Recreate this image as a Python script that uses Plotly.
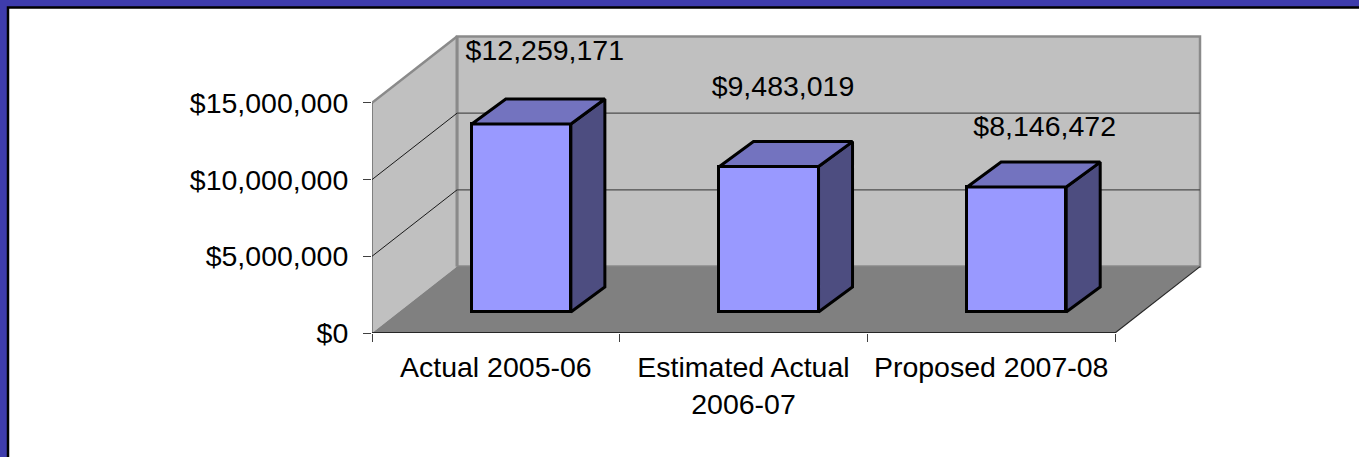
import plotly.graph_objects as go

# ---- data ----
categories = ["Actual 2005-06", "Estimated Actual<br>2006-07", "Proposed 2007-08"]
values = [12259171, 9483019, 8146472]
value_labels = ["$12,259,171", "$9,483,019", "$8,146,472"]
y_ticks = [0, 5000000, 10000000, 15000000]
y_tick_labels = ["$0", "$5,000,000", "$10,000,000", "$15,000,000"]

# ---- pixel calibration of the oblique projection ----
W, H = 1359, 457
PX_L, PX_R = 372.0, 1206.0      # plot area horizontally
PX_T, PX_B = 30.0, 333.5        # plot area vertically
CAT_PX = 743.0 / 3              # pixels per category
VAL_PX = 230.5 / 15000000       # pixels per dollar
WALL_DX, WALL_DY = 85.0, 66.5   # oblique offset of the back wall
BAR_DX, BAR_DY = 25.5, 21.0     # offset of a bar's front face
SIDE_DX, SIDE_DY = 34.0, 25.0   # bar depth
BAR_W = 0.4
FS = 28.5
FONT = "Liberation Sans, Arial, sans-serif"
LABEL_DX = [23.5, 14.0, 28.0]   # label offset from bar centre, px
LABEL_DY = [71.0, 78.0, 58.5]   # label offset above bar top, px

def ux(px): return px / CAT_PX
def uy(px): return px / VAL_PX
def pfx(px): return (px - PX_L) / (PX_R - PX_L)
def pfy(py): return (PX_B - py) / (PX_B - PX_T)

XMAX = ux(PX_R - PX_L)
YMAX = uy(PX_B - PX_T)
CATS = len(categories)
TOP = y_ticks[-1]
WX, WY = ux(WALL_DX), uy(WALL_DY)

WALL = "#C0C0C0"; FLOOR = "#808080"; EDGE = "#8A8A8A"
FRONT = "#9999FF"; TOPC = "#7373BF"; SIDE = "#4D4D80"
INK = "#000000"
STROKE = 3

fig = go.Figure()

centres = [i + 0.5 + ux(BAR_DX) for i in range(CATS)]
base = uy(BAR_DY)

# front faces
fig.add_trace(go.Bar(
    x=centres, y=values, base=[base] * CATS, width=BAR_W,
    marker=dict(color=FRONT, line=dict(color=INK, width=STROKE)),
    hoverinfo="skip", showlegend=False))

# side and top faces, derived from the values
for c, v in zip(centres, values):
    xl, xr = c - BAR_W / 2, c + BAR_W / 2
    dx, dy = ux(SIDE_DX), uy(SIDE_DY)
    t = base + v
    fig.add_trace(go.Scatter(
        x=[xr, xr + dx, xr + dx, xr, xr], y=[base, base + dy, t + dy, t, base],
        mode="lines", fill="toself", fillcolor=SIDE,
        line=dict(color=INK, width=STROKE), hoverinfo="skip", showlegend=False))
    fig.add_trace(go.Scatter(
        x=[xl, xl + dx, xr + dx, xr, xl], y=[t, t + dy, t + dy, t, t],
        mode="lines", fill="toself", fillcolor=TOPC,
        line=dict(color=INK, width=STROKE), hoverinfo="skip", showlegend=False))

# data labels
fig.add_trace(go.Scatter(
    x=[i + 0.5 + ux(BAR_DX + d) for i, d in enumerate(LABEL_DX)],
    y=[base + v + uy(d) for v, d in zip(values, LABEL_DY)],
    text=value_labels, mode="text", textposition="middle center",
    textfont=dict(family=FONT, size=FS, color="#000000"),
    cliponaxis=False, hoverinfo="skip", showlegend=False))

def poly(xs, ys):
    return "M" + " L".join(f"{x},{y}" for x, y in zip(xs, ys)) + " Z"

shapes = [
    # slide frame
    dict(type="rect", xref="paper", yref="paper", layer="below",
         x0=pfx(8), x1=pfx(W + 10), y0=pfy(7.5), y1=pfy(H + 10),
         fillcolor="#FFFFFF", line=dict(color="#000000", width=2.5)),
    # back wall, side wall, floor
    dict(type="rect", xref="x", yref="y", layer="below",
         x0=WX, x1=WX + CATS, y0=WY, y1=WY + TOP,
         fillcolor=WALL, line=dict(color=EDGE, width=2.5)),
    dict(type="path", xref="x", yref="y", layer="below",
         path=poly([0, WX, WX, 0], [0, WY, WY + TOP, TOP]),
         fillcolor=WALL, line=dict(color=EDGE, width=0)),
    dict(type="path", xref="x", yref="y", layer="below",
         path=poly([0, CATS, CATS + WX, WX], [0, 0, WY, WY]),
         fillcolor=FLOOR, line=dict(width=0)),
    # wall edges
    dict(type="line", xref="x", yref="y", layer="below",
         x0=0, y0=TOP, x1=WX, y1=WY + TOP, line=dict(color=EDGE, width=2.5)),
    dict(type="line", xref="x", yref="y", layer="below",
         x0=WX, y0=WY, x1=WX, y1=WY + TOP, line=dict(color=EDGE, width=3)),
    dict(type="line", xref="x", yref="y", layer="below",
         x0=0, y0=0, x1=0, y1=TOP, line=dict(color="#555555", width=1.2)),
    dict(type="line", xref="x", yref="y", layer="below",
         x0=0, y0=0, x1=CATS, y1=0, line=dict(color="#262626", width=2)),
    dict(type="line", xref="x", yref="y", layer="below",
         x0=CATS, y0=0, x1=CATS + WX, y1=WY, line=dict(color="#262626", width=1.2)),
]
# gridlines on side wall and back wall
for t in y_ticks[1:-1]:
    shapes.append(dict(type="line", xref="x", yref="y", layer="below",
                       x0=0, y0=t, x1=WX, y1=t + WY, line=dict(color="#1A1A1A", width=1)))
    shapes.append(dict(type="line", xref="x", yref="y", layer="below",
                       x0=WX, y0=t + WY, x1=WX + CATS, y1=t + WY, line=dict(color="#4D4D4D", width=1.2)))

fig.update_layout(
    width=W, height=H, autosize=False,
    margin=dict(l=PX_L, r=W - PX_R, t=PX_T, b=H - PX_B, pad=0),
    paper_bgcolor="#3E3CAC", plot_bgcolor="rgba(0,0,0,0)",
    font=dict(family=FONT, size=FS, color="#000000"),
    showlegend=False, bargap=0, shapes=shapes,
    xaxis=dict(range=[0, XMAX], showgrid=False, zeroline=False, showline=False, fixedrange=True,
               tickmode="array", tickvals=[i + 0.5 for i in range(CATS)], ticktext=categories,
               ticks="outside", ticklen=8, tickcolor="rgba(0,0,0,0)", ticklabelstandoff=1,
               tickfont=dict(family=FONT, size=FS, color="#000000"),
               minor=dict(tickmode="array", tickvals=list(range(CATS + 1)), ticks="outside",
                          ticklen=8, tickwidth=1, tickcolor="#404040", showgrid=False)),
    yaxis=dict(range=[0, YMAX], showgrid=False, zeroline=False, showline=False, fixedrange=True,
               tickmode="array", tickvals=y_ticks, ticktext=y_tick_labels,
               ticks="outside", ticklen=8, tickwidth=1, tickcolor="#404040", ticklabelstandoff=9,
               tickfont=dict(family=FONT, size=FS, color="#000000")),
)

fig.write_html("out.html", config=dict(displayModeBar=False),
               post_script="document.body.style.margin='0';document.body.style.overflow='hidden';")
